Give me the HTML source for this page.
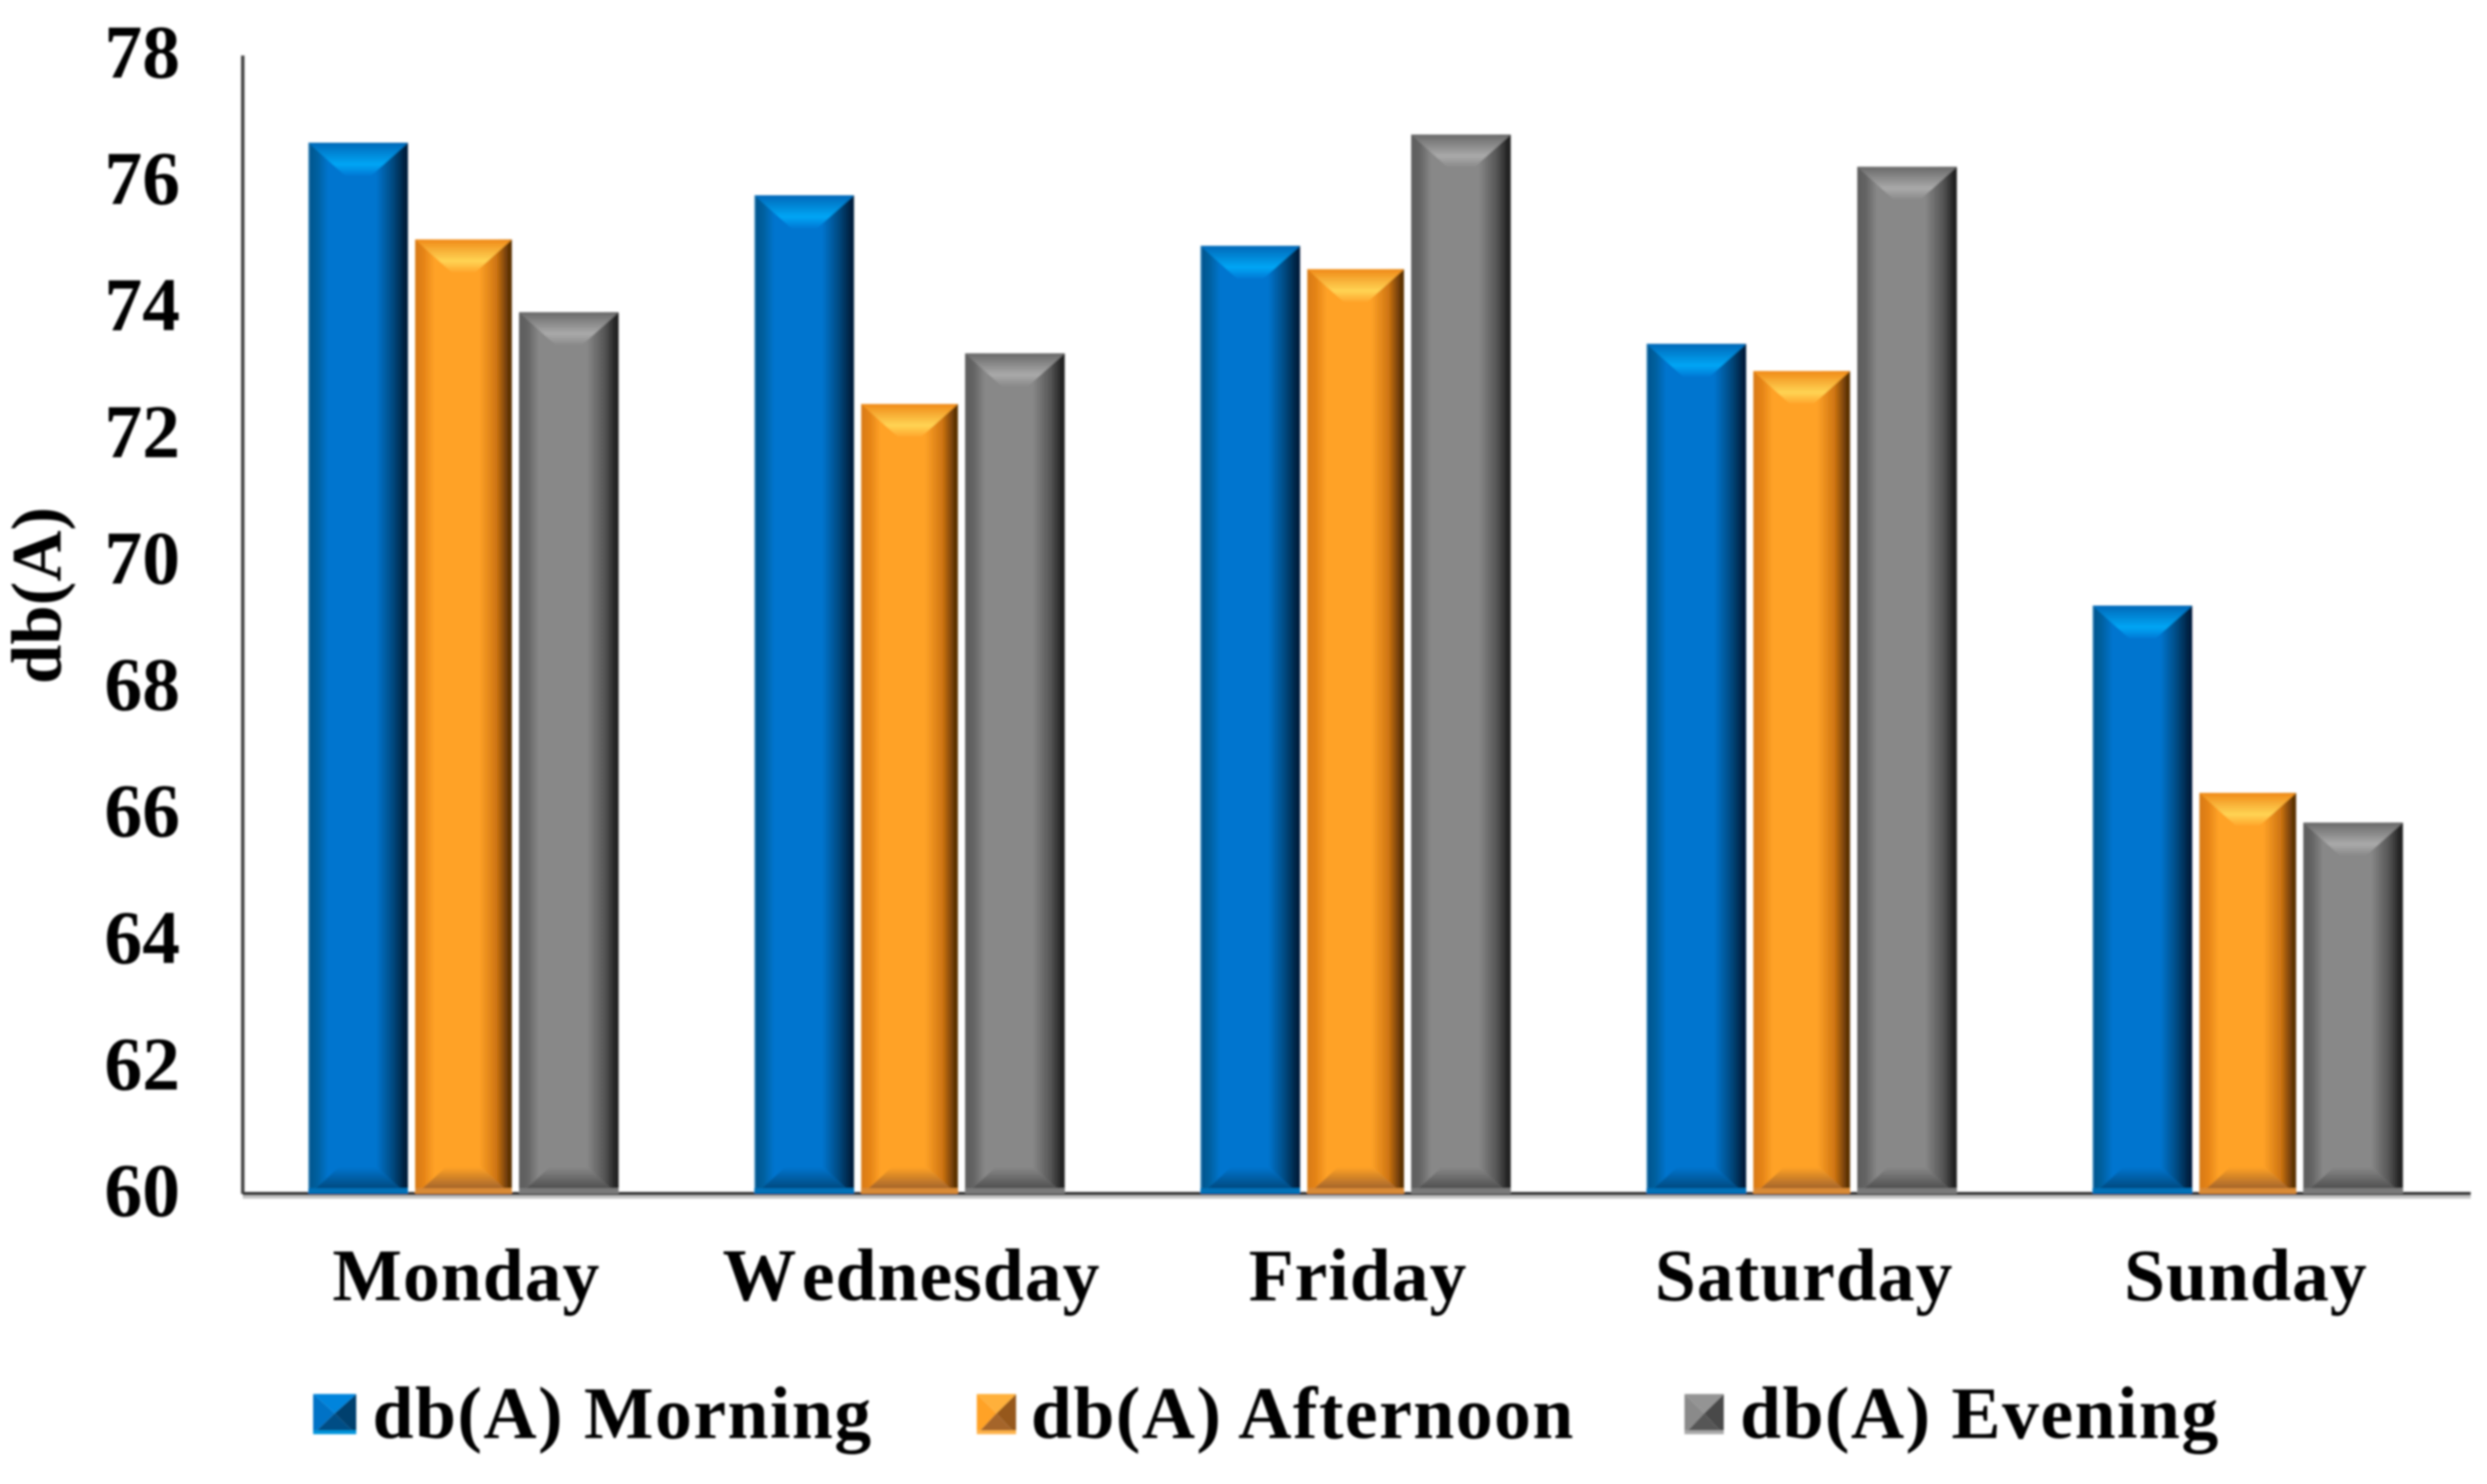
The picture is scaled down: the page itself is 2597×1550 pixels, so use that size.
<!DOCTYPE html>
<html lang="en">
<head>
<meta charset="utf-8">
<title>db(A) by day</title>
<style>
html,body{margin:0;padding:0;background:#fff;}
svg{display:block;}
text{font-family:"Liberation Serif",serif;font-weight:bold;fill:#000;}
</style>
</head>
<body>
<svg id="chart" xmlns="http://www.w3.org/2000/svg" width="2597" height="1550" viewBox="0 0 2597 1550">
<defs>
<filter id="soft" x="-2%" y="-2%" width="104%" height="104%"><feGaussianBlur stdDeviation="1.1"/></filter>
<linearGradient id="body-0" x1="0" x2="1" y1="0" y2="0"><stop offset="0" stop-color="#3a8fc4"/><stop offset="0.02" stop-color="#00568f"/><stop offset="0.09" stop-color="#00609f"/><stop offset="0.2" stop-color="#0075cf"/><stop offset="0.68" stop-color="#0075cf"/><stop offset="0.84" stop-color="#004c84"/><stop offset="0.97" stop-color="#001f3d"/><stop offset="1" stop-color="#001f3d"/></linearGradient>
<linearGradient id="body-1" x1="0" x2="1" y1="0" y2="0"><stop offset="0" stop-color="#d87a14"/><stop offset="0.09" stop-color="#e58417"/><stop offset="0.2" stop-color="#ffa227"/><stop offset="0.66" stop-color="#ffa227"/><stop offset="0.84" stop-color="#cf7512"/><stop offset="0.97" stop-color="#5c3205"/><stop offset="1" stop-color="#5c3205"/></linearGradient>
<linearGradient id="body-2" x1="0" x2="1" y1="0" y2="0"><stop offset="0" stop-color="#5c5c5c"/><stop offset="0.09" stop-color="#656565"/><stop offset="0.2" stop-color="#888888"/><stop offset="0.68" stop-color="#888888"/><stop offset="0.86" stop-color="#555555"/><stop offset="0.97" stop-color="#222222"/><stop offset="1" stop-color="#222222"/></linearGradient>
<linearGradient id="top-0" x1="0" x2="0" y1="0" y2="1"><stop offset="0" stop-color="#0068b8"/><stop offset="0.66" stop-color="#00a6f5"/><stop offset="1" stop-color="#007ad6"/></linearGradient>
<linearGradient id="top-1" x1="0" x2="0" y1="0" y2="1"><stop offset="0" stop-color="#f08a18"/><stop offset="0.66" stop-color="#ffd454"/><stop offset="1" stop-color="#ffa62c"/></linearGradient>
<linearGradient id="top-2" x1="0" x2="0" y1="0" y2="1"><stop offset="0" stop-color="#696969"/><stop offset="0.66" stop-color="#aaaaaa"/><stop offset="1" stop-color="#8a8a8a"/></linearGradient>
<linearGradient id="bot-0" x1="0" x2="0" y1="0" y2="1"><stop offset="0" stop-color="#0075cf"/><stop offset="1" stop-color="#004a80"/></linearGradient>
<linearGradient id="bot-1" x1="0" x2="0" y1="0" y2="1"><stop offset="0" stop-color="#ffa227"/><stop offset="1" stop-color="#a5652a"/></linearGradient>
<linearGradient id="bot-2" x1="0" x2="0" y1="0" y2="1"><stop offset="0" stop-color="#888888"/><stop offset="1" stop-color="#505050"/></linearGradient>
</defs>
<g id="root" filter="url(#soft)"></g>
</svg>
<script>
const categories = ["Monday", "Wednesday", "Friday", "Saturday", "Sunday"];
const morningValues = [76.62, 75.79, 74.99, 73.44, 69.30];
const afternoonValues = [75.09, 72.49, 74.62, 73.01, 66.34];
const eveningValues = [73.94, 73.29, 76.75, 76.24, 65.87];
const seriesNames = ["db(A) Morning", "db(A) Afternoon", "db(A) Evening"];
const tickLabels = [60, 62, 64, 66, 68, 70, 72, 74, 76, 78];

const NS = "http://www.w3.org/2000/svg";
const root = document.getElementById("root");
const plot = { left: 253.5, right: 2580, top: 58, bottom: 1247, min: 60, max: 78 };
const bandStep = 465.8;
const firstBandCenter = 484;
const yScale = v => plot.bottom - (v - plot.min) / (plot.max - plot.min) * (plot.bottom - plot.top);
const xBand = i => firstBandCenter + i * bandStep;
const barWidths = [104, 101, 104];
const barStep = 110;
const allSeries = [morningValues, afternoonValues, eveningValues];
const stripColors = ["#0070b8", "#d98a35", "#7a7a7a"];
const labelNudge = [3, 2, 2.5, 2.5, -2];

function make(tag, attrs, parent) {
  const el = document.createElementNS(NS, tag);
  for (const k in attrs) el.setAttribute(k, attrs[k]);
  (parent || root).appendChild(el);
  return el;
}

function drawBar(s, c, value) {
  const w = barWidths[s];
  const x = xBand(c) + (s - 1) * barStep - w / 2;
  const y = yScale(value);
  const y2 = plot.bottom;
  const g = make("g", {});
  
  
  make("rect", { x: x, y: y, width: w, height: y2 - y, fill: "url(#body-" + s + ")" }, g);
  const b = 34, ins = 38;
  make("polygon", { points: [x, y, x + w, y, x + w - ins, y + b, x + ins, y + b].join(" "), fill: "url(#top-" + s + ")" }, g);
  make("polygon", { points: [x + 8, y2 - 6, x + w - 8, y2 - 6, x + w - 32, y2 - 28, x + 32, y2 - 28].join(" "), fill: "url(#bot-" + s + ")" }, g);
  make("rect", { x: x, y: y2 - 6, width: w, height: 6, fill: stripColors[s] }, g);
}

/* base axis shadow and line sit behind the bars */
const baseShadow = make("rect", { x: plot.left, y: 1248, width: plot.right - plot.left, height: 4, fill: "#c4c4c4" });


const xAxis = make("rect", { x: plot.left, y: plot.bottom - 2, width: plot.right - plot.left, height: 3.5, fill: "#333333" });



/* bars */
allSeries.forEach((vals, s) => vals.forEach((v, c) => drawBar(s, c, v)));

/* axis edge under bars and y axis */
const baseEdge = make("rect", { x: plot.left, y: plot.bottom, width: plot.right - plot.left, height: 1.5, fill: "#222222" });


const yAxis = make("rect", { x: plot.left - 1.75, y: plot.top, width: 3.5, height: plot.bottom - plot.top, fill: "#3c3c3c" });



/* y ticks */
tickLabels.forEach(t => {
  const el = make("text", { x: 188, y: yScale(t) + 23, "text-anchor": "end", "font-size": 79 });
  el.textContent = t;
  
  
});

/* category labels */
categories.forEach((name, i) => {
  const el = make("text", { x: xBand(i) + labelNudge[i], y: 1358, "text-anchor": "middle", "font-size": 77, "letter-spacing": 1 });
  
  
  if (name.charAt(0) === "W") {
    const first = make("tspan", {}, el);
    first.textContent = name.charAt(0);
    const rest = make("tspan", { dx: 9 }, el);
    rest.textContent = name.slice(1);
  } else {
    el.textContent = name;
  }
});

/* y axis title */
const yTitle = make("text", { x: 0, y: 0, "text-anchor": "middle", "font-size": 74, transform: "translate(63 622) rotate(-90)" });
yTitle.textContent = "db(A)";



/* legend */
const legendSwatchX = [327, 1020, 1759];
const legendSwatchW = [45, 41, 41];
const legendTextX = [389, 1076.5, 1817];
const swatchLeft = ["#0072c6", "#ffa227", "#8a8a8a"];
const swatchRight = ["#003f6e", "#96581a", "#484848"];
const swatchTop = ["#0084dc", "#ffb03a", "#949494"];
const swatchBottom = ["#004e85", "#a5652a", "#565656"];
const swatchStrip = ["#0094dc", "#ffb24a", "#a8a8a8"];
seriesNames.forEach((name, i) => {
  const g = make("g", {});
  
  
  const sw = make("g", {}, g);
  
  
  const x0 = legendSwatchX[i], w = legendSwatchW[i], y0 = 1456, h = 42;
  const cx = x0 + w / 2, cy = y0 + h * 0.48;
  make("polygon", { points: [x0, y0, x0, y0 + h, cx, cy].join(" "), fill: swatchLeft[i] }, sw);
  make("polygon", { points: [x0 + w, y0, x0 + w, y0 + h, cx, cy].join(" "), fill: swatchRight[i] }, sw);
  make("polygon", { points: [x0, y0, x0 + w, y0, cx, cy].join(" "), fill: swatchTop[i] }, sw);
  make("polygon", { points: [x0, y0 + h, x0 + w, y0 + h, cx, cy].join(" "), fill: swatchBottom[i] }, sw);
  make("rect", { x: x0, y: y0 + h - 4, width: w, height: 4, fill: swatchStrip[i] }, sw);
  const tx = make("text", { x: legendTextX[i], y: 1502, "font-size": 77, "letter-spacing": 1.5 }, g);
  tx.textContent = name;
  
  
});
</script>
</body>
</html>
